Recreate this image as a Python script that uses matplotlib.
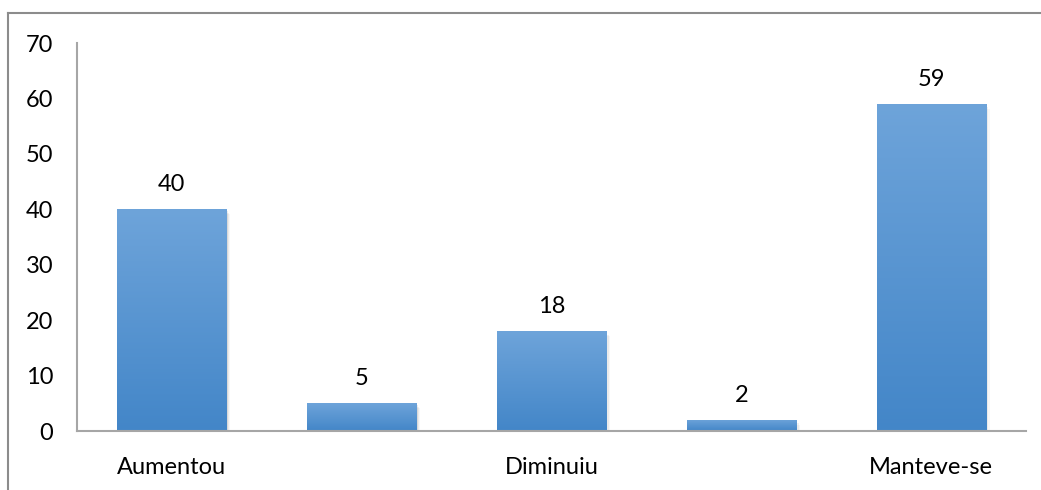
import numpy as np
import matplotlib.pyplot as plt
from matplotlib.lines import Line2D
from matplotlib.patches import Rectangle

categories = ['Aumentou', '', 'Diminuiu', '', 'Manteve-se']
values = [40, 5, 18, 2, 59]
yticks = [0, 10, 20, 30, 40, 50, 60, 70]

plt.rcParams['font.family'] = ['Lato', 'DejaVu Sans']

fig = plt.figure(figsize=(10.41, 4.90), dpi=100)
ax = fig.add_axes([77 / 1041, 1 - 431 / 490, (1026 - 77) / 1041, (431 - 43) / 490])

# outer frame (top and left only, rest is cropped)
fig.add_artist(Line2D([8 / 1041, 1], [1 - 13 / 490] * 2, color='#8c8c8c', lw=1.5, transform=fig.transFigure))
fig.add_artist(Line2D([8 / 1041] * 2, [0, 1 - 13 / 490], color='#8c8c8c', lw=1.5, transform=fig.transFigure))

x = np.arange(len(values))
width = 0.575
grad = np.linspace(0, 1, 256).reshape(-1, 1)
cmap = plt.matplotlib.colors.LinearSegmentedColormap.from_list('g', ['#4386c8', '#6ea4da'])

for xi, v in zip(x, values):
    # soft shadow
    for k, a in enumerate([0.07, 0.05, 0.03]):
        off = 0.007 * (k + 1)
        ax.add_patch(Rectangle((xi - width / 2 + off, -0.3 * (k + 1)), width, v,
                               color='black', alpha=a, lw=0, zorder=1))
    rect = Rectangle((xi - width / 2, 0), width, v, facecolor='none', lw=0, zorder=2)
    ax.add_patch(rect)
    im = ax.imshow(grad, extent=[xi - width / 2, xi + width / 2, 0, v], origin='lower',
                   cmap=cmap, aspect='auto', zorder=2)
    im.set_clip_path(rect)
    ax.text(xi, v + 2.6, str(v), ha='center', va='bottom', fontsize=17)

ax.set_xlim(-0.5, 4.5)
ax.set_ylim(0, 70)
ax.set_xticks(x)
ax.set_xticklabels(categories, fontsize=17)
ax.set_yticks(yticks)
ax.tick_params(axis='y', length=0, pad=17, labelsize=17)
ax.tick_params(axis='x', length=0, pad=19)

for s in ['top', 'right']:
    ax.spines[s].set_visible(False)
for s in ['left', 'bottom']:
    ax.spines[s].set_color('#a6a6a6')
    ax.spines[s].set_linewidth(1.5)
ax.spines['bottom'].set_zorder(3)

fig.savefig('out.png', dpi=100)
